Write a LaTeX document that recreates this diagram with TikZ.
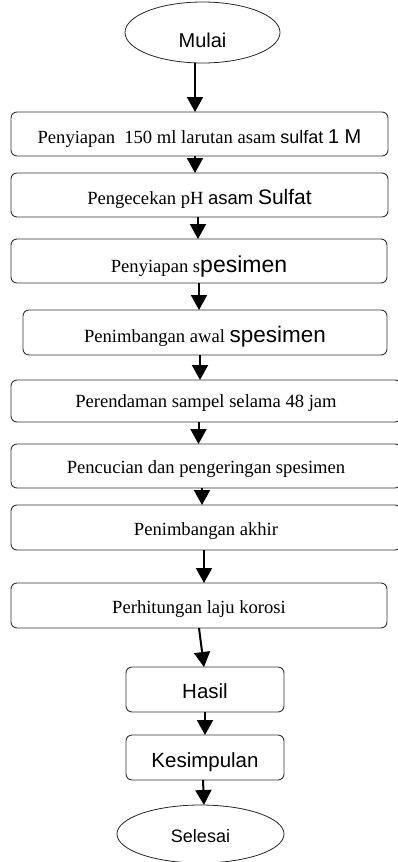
\documentclass[tikz,border=0pt]{standalone}
\usepackage{fontspec}
\setmainfont{Liberation Serif}
\newfontfamily\arsans{Liberation Sans}
\usetikzlibrary{arrows.meta,shapes.geometric}
\newcommand\sanstxt[2]{{\arsans\fontsize{#1}{#1}\selectfont #2}}
\begin{document}
\begin{tikzpicture}[x=1pt,y=-1pt,
  box/.style={draw=black!80, line width=0.9pt, rounded corners=6pt, inner sep=0pt, outer sep=0pt,
    anchor=south west, font=\fontsize{18.6}{20}\selectfont},
  term/.style={draw=black!85, line width=0.8pt, ellipse, inner sep=0pt, outer sep=0pt},
  arr/.style={line width=2pt, -{Triangle[width=16pt,length=15pt]}}]
\useasboundingbox (0,0) rectangle (398,862);

\node[term, minimum width=155pt, minimum height=61pt, text height=29pt, text depth=0pt] (mulai) at (202.5,32.5) {\sanstxt{20}{Mulai}};

\node[box, minimum width=377pt, text height=31pt, text depth=13pt] (b1) at (11,156)
  {Penyiapan\ \ 150 ml larutan asam \sanstxt{18}{sulfat} \sanstxt{20}{1 M}};
\node[box, minimum width=377pt, text height=31pt, text depth=13pt] (b2) at (11,217)
  {Pengecekan pH \sanstxt{18.5}{asam} \sanstxt{21}{Sulfat}};
\node[box, minimum width=376pt, text height=33pt, text depth=11pt] (b3) at (11,283)
  {Penyiapan s\sanstxt{23}{pesimen}};
\node[box, minimum width=364pt, text height=32pt, text depth=13pt] (b4) at (23,355)
  {Penimbangan awal \sanstxt{22.5}{spesimen}};
\node[box, minimum width=390pt, text height=27pt, text depth=15pt] (b5) at (11,422)
  {Perendaman sampel selama 48 jam};
\node[box, minimum width=390pt, text height=29pt, text depth=15pt] (b6) at (11,488)
  {Pencucian dan pengeringan spesimen};
\node[box, minimum width=390pt, text height=30pt, text depth=15pt] (b7) at (11,550)
  {Penimbangan akhir};
\node[box, minimum width=376pt, text height=30pt, text depth=15pt] (b8) at (11,628)
  {Perhitungan laju korosi};
\node[box, minimum width=158pt, text height=31pt, text depth=14pt] (hasil) at (126,712)
  {\sanstxt{20.5}{Hasil}};
\node[box, minimum width=158pt, text height=32pt, text depth=13pt] (kes) at (126,780)
  {\sanstxt{20.5}{Kesimpulan}};

\node[term, minimum width=167pt, minimum height=58pt, text height=16pt, text depth=0pt] (selesai) at (200.5,834) {\sanstxt{18}{Selesai}};

\draw[arr] ([xshift=-7.5pt]mulai.south) -- ([xshift=-4.5pt]b1.north);
\draw[arr] ([xshift=-4.5pt]b1.south) -- ([xshift=-4.5pt]b2.north);
\draw[arr] ([xshift=-1.5pt]b2.south) -- ([xshift=-1pt]b3.north);
\draw[arr] (b3.south) -- ([xshift=-6pt]b4.north);
\draw[arr] ([xshift=-5pt]b4.south) -- ([xshift=-6pt]b5.north);
\draw[arr] ([xshift=-7.5pt]b5.south) -- ([xshift=-7.5pt]b6.north);
\draw[arr] ([xshift=-4pt]b6.south) -- ([xshift=-4pt]b7.north);
\draw[arr] ([xshift=-2pt]b7.south) -- ([xshift=5pt]b8.north);
\draw[arr] (b8.south) -- ([xshift=-1pt]hasil.north);
\draw[arr] (hasil.south) -- (kes.north);
\draw[arr] ([xshift=-2pt]kes.south) -- ([xshift=3.5pt]selesai.north);
\end{tikzpicture}
\end{document}
